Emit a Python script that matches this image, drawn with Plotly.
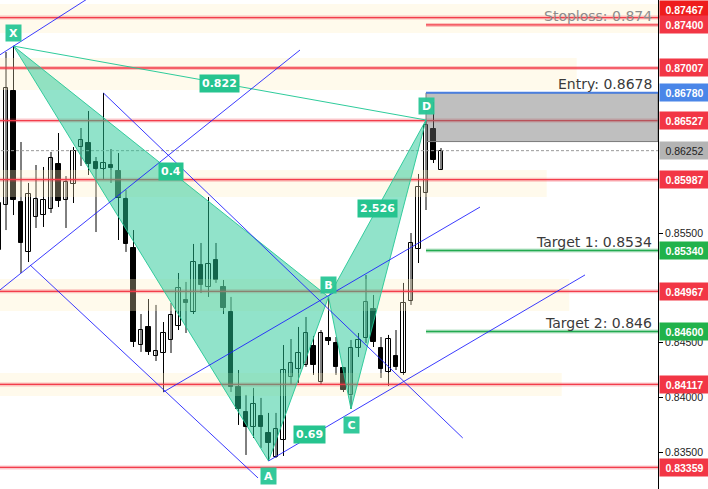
import plotly.graph_objects as go

# ---------------- data ----------------
bar_index = list(range(60))
opens = [0.85345,0.85756,0.86796,0.85783,0.85327,0.85646,0.85664,0.85719,0.86130,0.85801,
         0.85947,0.86285,0.86322,0.86148,0.86084,0.86121,0.86066,0.85810,0.85363,0.84477,
         0.84642,0.84377,0.84404,0.84523,0.84651,0.84888,0.84779,0.85208,0.85007,0.85253,
         0.85007,0.84779,0.84094,0.83866,0.83729,0.83829,0.83674,0.83455,0.83610,0.84185,
         0.84258,0.84295,0.84468,0.84140,0.84541,0.84496,0.84267,0.84021,0.84450,0.84541,
         0.84806,0.84450,0.84231,0.84377,0.84222,0.84879,0.85354,0.85865,0.86450,0.86075]
highs = [0.85847,0.87153,0.87207,0.86331,0.85957,0.86121,0.86103,0.86240,0.86413,0.86020,
         0.86285,0.86459,0.86614,0.86194,0.86778,0.86267,0.86230,0.85893,0.85527,0.84760,
         0.84897,0.84843,0.84687,0.84861,0.85135,0.85053,0.85400,0.85409,0.85829,0.85409,
         0.85071,0.84916,0.84249,0.84021,0.84085,0.83994,0.83857,0.83857,0.84477,0.84532,
         0.84642,0.84733,0.84560,0.84614,0.84916,0.84550,0.84277,0.84523,0.84587,0.85117,
         0.84934,0.84550,0.84569,0.84614,0.85044,0.85500,0.86039,0.86532,0.86696,0.86276]
lows = [0.85299,0.85527,0.85664,0.85135,0.85235,0.85546,0.85555,0.85683,0.85737,0.85546,
        0.85774,0.86112,0.86030,0.85509,0.85984,0.85957,0.85436,0.85327,0.84459,0.84414,
        0.84386,0.84331,0.84048,0.84404,0.84614,0.84587,0.84760,0.84952,0.84916,0.85044,
        0.84760,0.84048,0.83747,0.83473,0.83628,0.83537,0.83418,0.83446,0.83464,0.84112,
        0.84130,0.84277,0.84204,0.84112,0.84477,0.84204,0.84048,0.83893,0.84368,0.84496,
        0.84459,0.84176,0.84103,0.84249,0.84204,0.84843,0.85226,0.85710,0.86139,0.86075]
closes = [0.85774,0.86824,0.85801,0.85409,0.85856,0.85810,0.85801,0.86185,0.85792,0.85966,
          0.86249,0.86349,0.86130,0.86084,0.86139,0.86093,0.85820,0.85400,0.84505,0.84614,
          0.84414,0.84423,0.84587,0.84751,0.84998,0.84861,0.85235,0.85025,0.85217,0.85071,
          0.84815,0.84094,0.83893,0.83729,0.83939,0.83729,0.83583,0.83711,0.84249,0.84313,
          0.84404,0.84587,0.84295,0.84587,0.84514,0.84277,0.84067,0.84450,0.84523,0.84870,
          0.84505,0.84258,0.84532,0.84277,0.84861,0.85409,0.85920,0.86486,0.86167,0.86252]

# harmonic pattern pivots (bar index, which extreme)
pattern_names = ["X", "A", "B", "C", "D"]
pattern_bars = [2, 36, 44, 47, 57]
pattern_side = ["high", "low", "high", "low", "high"]
ratio_texts = ["0.822", "0.4", "2.526", "0.69"]
ratio_legs = [("X", "D"), ("X", "B"), ("B", "D"), ("A", "C")]

# horizontal levels
red_levels = [0.87467, 0.87400, 0.87007, 0.86527, 0.85987, 0.84967, 0.84117, 0.83359]
stoploss = 0.874
entry = 0.8678
entry_zone_bottom = 0.86335
target1 = 0.8534
target2 = 0.846
current_price = 0.86252

# supply / demand zones: top, bottom, end bar
zone_tops = [0.87592, 0.87098, 0.86075, 0.85080, 0.84222]
zone_bottoms = [0.87327, 0.86806, 0.85829, 0.84788, 0.84012]
zone_ends = [88.0, 77.1, 73.1, 76.1, 75.1]

# trend / channel lines: (bar0, price0, bar1, price1)
trend_lines = [
    (-1.0, 0.87075, 12.0, 0.87645),
    (0.2, 0.84980, 40.2, 0.87171),
    (14.0, 0.86778, 61.9, 0.83628),
    (4.2, 0.85208, 34.6, 0.83263),
    (22.0, 0.84048, 64.2, 0.85737),
    (36.0, 0.83418, 78.2, 0.85117),
]

axis_ticks = [0.855, 0.845, 0.840, 0.835]

X_MIN, X_MAX = 0.2, 87.933
Y_MIN, Y_MAX = 0.831621, 0.876279

# ---------------- figure ----------------
fig = go.Figure()

# wicks
wx, wy = [], []
for i, h, l in zip(bar_index, highs, lows):
    wx += [i, i, None]
    wy += [l, h, None]
fig.add_trace(go.Scatter(x=wx, y=wy, mode="lines", line=dict(color="black", width=1),
                         hoverinfo="skip", showlegend=False))

# bodies
for up in (True, False):
    xs, base, hgt = [], [], []
    for i, o, c in zip(bar_index, opens, closes):
        if (c >= o) == up:
            xs.append(i)
            base.append(min(o, c))
            hgt.append(max(abs(c - o), 0.00003))
    fig.add_trace(go.Bar(x=xs, y=hgt, base=base, width=0.56,
                         marker=dict(color="white" if up else "black",
                                     line=dict(color="black", width=1)),
                         showlegend=False, hoverinfo="skip"))

shapes = []
# zones
for t, b, e in zip(zone_tops, zone_bottoms, zone_ends):
    shapes.append(dict(type="rect", xref="x", yref="y", x0=-5, x1=min(e, X_MAX), y0=b, y1=t,
                       fillcolor="rgba(255,238,193,0.30)", line=dict(width=0), layer="above"))

D_bar = pattern_bars[4]
# red levels
for lv in red_levels:
    x0 = D_bar if abs(lv - stoploss) < 1e-9 else -5
    shapes.append(dict(type="line", xref="x", yref="y", x0=x0, x1=X_MAX, y0=lv, y1=lv,
                       line=dict(color="rgba(242,54,69,0.28)", width=4), layer="above"))
    shapes.append(dict(type="line", xref="x", yref="y", x0=x0, x1=X_MAX, y0=lv, y1=lv,
                       line=dict(color="rgba(242,54,69,0.95)", width=1.3), layer="above"))

# current price dashed
shapes.append(dict(type="line", xref="x", yref="y", x0=-5, x1=X_MAX, y0=current_price, y1=current_price,
                   line=dict(color="#9a9a9a", width=1, dash="3px,2px"), layer="above"))

# entry zone
shapes.append(dict(type="rect", xref="x", yref="y", x0=D_bar, x1=X_MAX, y0=entry_zone_bottom, y1=entry,
                   fillcolor="rgba(110,110,110,0.44)", line=dict(color="#7a7a7a", width=1), layer="above"))
shapes.append(dict(type="line", xref="x", yref="y", x0=D_bar, x1=X_MAX, y0=entry, y1=entry,
                   line=dict(color="#4a7fe0", width=2), layer="above"))
# targets
for tg in (target1, target2):
    shapes.append(dict(type="line", xref="x", yref="y", x0=D_bar, x1=X_MAX, y0=tg, y1=tg,
                       line=dict(color="rgba(34,170,80,0.3)", width=4), layer="above"))
    shapes.append(dict(type="line", xref="x", yref="y", x0=D_bar, x1=X_MAX, y0=tg, y1=tg,
                       line=dict(color="#22aa50", width=1.5), layer="above"))

# pattern points
pts = {}
for n, b, s in zip(pattern_names, pattern_bars, pattern_side):
    pts[n] = (b, highs[b] if s == "high" else lows[b])

def tri(a, b, c):
    (x1, y1), (x2, y2), (x3, y3) = pts[a], pts[b], pts[c]
    return f"M {x1},{y1} L {x2},{y2} L {x3},{y3} Z"

for path in (tri("X", "A", "B"), tri("B", "C", "D")):
    shapes.append(dict(type="path", xref="x", yref="y", path=path,
                       fillcolor="rgba(35,200,150,0.5)",
                       line=dict(color="rgba(35,200,150,0.9)", width=1), layer="above"))
# X-D line
shapes.append(dict(type="line", xref="x", yref="y", x0=pts["X"][0], y0=pts["X"][1],
                   x1=pts["D"][0], y1=pts["D"][1],
                   line=dict(color="rgba(35,200,150,0.95)", width=1), layer="above"))

# blue trend lines
for (a0, p0, a1, p1) in trend_lines:
    shapes.append(dict(type="line", xref="x", yref="y", x0=a0, y0=p0, x1=a1, y1=p1,
                       line=dict(color="rgba(25,25,255,0.85)", width=1), layer="above"))

annotations = []
FONT = "DejaVu Sans"
AXFONT = "Liberation Sans"
# pattern letters
letter_shift = {"X": 13, "A": -15, "B": 12, "C": -16, "D": 14}
for n in pattern_names:
    bx, py = pts[n]
    annotations.append(dict(x=bx, y=py, xref="x", yref="y", text=f"<b>{n}</b>", showarrow=False,
                            yshift=letter_shift[n], bgcolor="rgba(40,198,150,0.95)",
                            font=dict(color="white", size=11, family=FONT), borderpad=2,
                            width=11, height=12))
# ratio labels
for txt, (a, b) in zip(ratio_texts, ratio_legs):
    mx = (pts[a][0] + pts[b][0]) / 2
    my = (pts[a][1] + pts[b][1]) / 2
    annotations.append(dict(x=mx, y=my, xref="x", yref="y", text=f"<b>{txt}</b>", showarrow=False,
                            bgcolor="rgba(38,196,143,1)", font=dict(color="white", size=11, family=FONT),
                            borderpad=2))

# level text labels
for txt, lv, col in (("Stoploss: 0.874", stoploss, "#8c8c8c"), ("Entry: 0.8678", entry, "#3a3a3a"),
                     ("Target 1: 0.8534", target1, "#3a3a3a"), ("Target 2: 0.846", target2, "#3a3a3a")):
    annotations.append(dict(x=1, y=lv, xref="paper", yref="y", text=txt, showarrow=False,
                            xanchor="right", yanchor="bottom", xshift=-5, yshift=0,
                            font=dict(color=col, size=14, family=FONT), borderpad=0))

# right axis price labels
axis_labels = [(0.87467, "#ee1c1c", "white", 8), (0.87400, "#f23645", "white", 0),
               (0.87007, "#f23645", "white", 0), (0.86780, "#4a86e8", "white", 0),
               (0.86527, "#f23645", "white", 0), (current_price, "#b4b4b4", "#222222", 0),
               (0.85987, "#f23645", "white", 0), (target1, "#21b24b", "white", 0),
               (0.84967, "#f23645", "white", 0), (target2, "#21b24b", "white", 0),
               (0.84117, "#f23645", "white", 0), (0.83359, "#f23645", "white", 0)]
for v, bg, fc, ys in axis_labels:
    txt = f"{v:.5f}"
    if fc == "white":
        txt = f"<b>{txt}</b>"
    annotations.append(dict(x=1, y=v, xref="paper", yref="y", text=txt, showarrow=False,
                            xanchor="left", xshift=1, yshift=ys, bgcolor=bg,
                            font=dict(color=fc, size=10.5, family=AXFONT),
                            width=45, height=13, borderpad=2, align="center"))

fig.update_layout(
    width=708, height=489,
    margin=dict(l=0, r=50, t=0, b=0, autoexpand=False),
    paper_bgcolor="white", plot_bgcolor="white",
    barmode="overlay", bargap=0,
    showlegend=False,
    shapes=shapes, annotations=annotations,
    xaxis=dict(visible=False, range=[X_MIN, X_MAX], fixedrange=True, automargin=False),
    yaxis=dict(side="right", range=[Y_MIN, Y_MAX], showgrid=False, zeroline=False,
               showline=True, linecolor="black", linewidth=1, automargin=False,
               ticks="outside", ticklen=4, tickcolor="black",
               tickvals=axis_ticks, ticktext=[f"{t:.5f}" for t in axis_ticks],
               tickfont=dict(size=10.5, color="#222222", family=AXFONT)),
)

fig.write_html("out.html", config={"displayModeBar": False},
               post_script="document.body.style.margin='0px';document.body.style.overflow='hidden';")
